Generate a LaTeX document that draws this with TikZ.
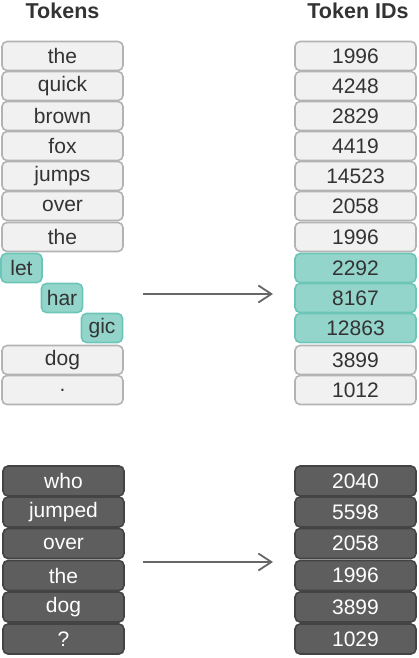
\documentclass[tikz,border=0pt]{standalone}
\usepackage{fontspec}
\setmainfont{Liberation Sans}
\usetikzlibrary{arrows.meta}
\definecolor{lfill}{HTML}{F1F1F1}
\definecolor{ldraw}{HTML}{B3B3B3}
\definecolor{tfill}{HTML}{93D5CB}
\definecolor{tdraw}{HTML}{6CC5B7}
\definecolor{dfill}{HTML}{5E5E5E}
\definecolor{ddraw}{HTML}{444444}
\definecolor{txt}{HTML}{333333}
\definecolor{arr}{HTML}{666666}
\tikzset{
  x=1pt, y=-1pt,
  boxbase/.style={rounded corners=5pt, line width=1.6pt, inner sep=0pt, outer sep=0pt,
    font=\fontsize{21}{21}\selectfont, text=txt, minimum height=29pt},
  lbox/.style={boxbase, fill=lfill, draw=ldraw, minimum width=121pt},
  tbox/.style={boxbase, fill=tfill, draw=tdraw},
  tidbox/.style={boxbase, fill=tfill, draw=tdraw, minimum width=121pt},
  dbox/.style={boxbase, fill=dfill, draw=ddraw, text=white, minimum width=121pt, minimum height=30pt},
  hdr/.style={font=\fontsize{21.5}{21.5}\selectfont\bfseries, text=txt},
  conn/.style={draw=arr, line width=1.8pt, -{Straight Barb[length=13pt,width=17pt,line width=1.8pt]}}
}
\begin{document}
\begin{tikzpicture}
\useasboundingbox (0,0) rectangle (418,658);
\node[hdr] (h1) at (62.5,11) {Tokens};
\node[hdr] (h2) at (358,11) {Token IDs};
% left top
\node[lbox] (l1) at (62.5,56) {the};
\node[lbox] (l2) at (62.5,86) {quick};
\node[lbox] (l3) at (62.5,116) {brown};
\node[lbox] (l4) at (62.5,146) {fox};
\node[lbox] (l5) at (62.5,176) {jumps};
\node[lbox] (l6) at (62.5,206) {over};
\node[lbox] (l7) at (62.5,237) {the};
\node[tbox, minimum width=41pt] (l8) at (21.5,268) {let};
\node[tbox, minimum width=41pt] (l9) at (62,298) {har};
\node[tbox, minimum width=41pt] (l10) at (102,328) {gic};
\node[lbox] (l11) at (62.5,360) {dog};
\node[lbox] (l12) at (62.5,390) {.};
% right top
\node[lbox] (r1) at (355.5,56) {1996};
\node[lbox] (r2) at (355.5,86) {4248};
\node[lbox] (r3) at (355.5,116) {2829};
\node[lbox] (r4) at (355.5,146) {4419};
\node[lbox] (r5) at (355.5,176) {14523};
\node[lbox] (r6) at (355.5,206) {2058};
\node[lbox] (r7) at (355.5,237) {1996};
\node[tidbox] (r8) at (355.5,268) {2292};
\node[tidbox] (r9) at (355.5,298) {8167};
\node[tidbox] (r10) at (355.5,328) {12863};
\node[lbox] (r11) at (355.5,360) {3899};
\node[lbox] (r12) at (355.5,390) {1012};
% bottom
\node[dbox] (b1) at (63.5,481) {who};
\node[dbox] (b2) at (63.5,512) {jumped};
\node[dbox] (b3) at (63.5,543.5) {over};
\node[dbox] (b4) at (63.5,575.5) {the};
\node[dbox] (b5) at (63.5,607) {dog};
\node[dbox] (b6) at (63.5,639) {?};
\node[dbox] (c1) at (355.5,481) {2040};
\node[dbox] (c2) at (355.5,512) {5598};
\node[dbox] (c3) at (355.5,543.5) {2058};
\node[dbox] (c4) at (355.5,575.5) {1996};
\node[dbox] (c5) at (355.5,607) {3899};
\node[dbox] (c6) at (355.5,639) {1029};
% arrows
\coordinate (a1s) at (143,294);
\coordinate (a1e) at (273,294);
\coordinate (a2s) at (143,562);
\coordinate (a2e) at (273,562);
\draw[conn] (a1s) -- (a1e);
\draw[conn] (a2s) -- (a2e);
\end{tikzpicture}
\end{document}
